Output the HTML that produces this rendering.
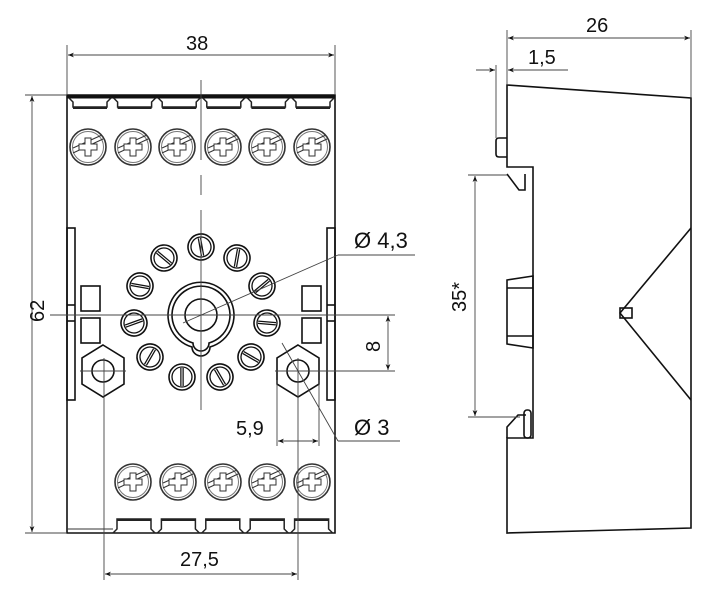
<!DOCTYPE html>
<html><head><meta charset="utf-8"><style>
html,body{margin:0;padding:0;background:#fff;}
svg{display:block;}
text{font-family:"Liberation Sans",sans-serif;font-size:20px;fill:#111;}
</style></head><body>
<svg width="706" height="589" viewBox="0 0 706 589" xmlns="http://www.w3.org/2000/svg">
<defs>
<marker id="a" viewBox="0 0 10 10" refX="10" refY="5" markerWidth="10" markerHeight="6" orient="auto-start-reverse" markerUnits="userSpaceOnUse"><path d="M0,1 L10,5 L0,9 L3,5 Z" fill="#111"/></marker>
<g id="sc">
<circle r="18" fill="none" stroke="#333" stroke-width="1.6"/><circle r="15.5" fill="none" stroke="#777" stroke-width="1"/>
<line x1="-15" y1="6" x2="15" y2="-8" stroke="#333"/><line x1="-15" y1="1" x2="14" y2="-12" stroke="#333"/>
<path d="M-3,-9h6v6h6v6h-6v6h-6v-6h-6v-6h6z" fill="#fff" stroke="#333"/>
</g>
<g id="pin">
<circle r="13" fill="none" stroke="#111" stroke-width="1.6"/><circle r="10" fill="none" stroke="#111" stroke-width="1.3"/>
<line x1="-9" y1="0" x2="9" y2="0" stroke="#111" stroke-width="3.5"/><line x1="-9" y1="0" x2="9" y2="0" stroke="#fff" stroke-width="1"/>
</g>
<g id="ct">
<path d="M0,0 l4,4 v5 h34 v-5 l4,-4" fill="none" stroke="#222" stroke-width="1.5"/><line x1="4" y1="10" x2="38" y2="10" stroke="#222" stroke-width="2"/>
</g>
<g id="cb">
<path d="M0,0 l4,-4 v-10 h34 v10 l4,4" fill="none" stroke="#222" stroke-width="1.5"/><line x1="4" y1="-13" x2="38" y2="-13" stroke="#222" stroke-width="2"/>
</g>
</defs>
<g fill="none" stroke="#111" stroke-width="1.6">
<path d="M67,95 V533 H335 V95 Z"/>
<line x1="67" y1="97" x2="335" y2="97" stroke-width="3"/>
<rect x="67" y="228" width="8" height="172"/>
<rect x="327" y="228" width="8" height="172"/>
<line x1="67" y1="305" x2="75" y2="305"/><line x1="67" y1="321" x2="75" y2="321"/>
<line x1="327" y1="305" x2="335" y2="305"/><line x1="327" y1="321" x2="335" y2="321"/>
<rect x="81" y="286" width="19" height="25"/><rect x="81" y="318" width="19" height="25"/>
<rect x="302" y="286" width="19" height="25"/><rect x="302" y="318" width="19" height="25"/>
<path d="M192,347 A33,33 0 1 1 210,347 A9,9 0 0 1 192,347 Z"/>
<path d="M193,343 A29,29 0 1 1 209,343 A8,8 0 0 1 193,343 Z"/>
<circle cx="201" cy="315" r="16"/>
<polygon points="103,345 124,358 124,384 103,397 82,384 82,358"/>
<circle cx="103" cy="371" r="11"/>
<polygon points="298,345 319,358 319,384 298,397 277,384 277,358"/>
<circle cx="298" cy="371" r="11"/>
<path d="M507,85 L691,98 V528 L507,533 V438 L533,438 V167 L507,167 Z"/>
<path d="M691,228 L620,313 L691,400"/>
<rect x="620" y="308" width="12" height="10"/>
<path d="M507,280 L533,276 V348 L507,344 Z"/><line x1="507" y1="288" x2="533" y2="288"/><line x1="507" y1="336" x2="533" y2="336"/>
<path d="M507,174 L519,190 H525 V174"/>
<path d="M507,438 V427 L518,415 H526"/>
<rect x="524" y="410" width="7" height="28" rx="3"/>
<path d="M507,138 H499 Q496,138 496,141 V154 Q496,157 499,157 H507"/>
</g>
<use href="#sc" x="88" y="147"/><use href="#sc" x="133" y="147"/><use href="#sc" x="177" y="147"/><use href="#sc" x="223" y="147"/><use href="#sc" x="267" y="147"/><use href="#sc" x="312" y="147"/>
<use href="#sc" x="133" y="482"/><use href="#sc" x="178" y="482"/><use href="#sc" x="223" y="482"/><use href="#sc" x="267" y="482"/><use href="#sc" x="312" y="482"/>
<use href="#ct" x="69" y="98"/><use href="#ct" x="113.6" y="98"/><use href="#ct" x="158.2" y="98"/><use href="#ct" x="202.8" y="98"/><use href="#ct" x="247.4" y="98"/><use href="#ct" x="292" y="98"/>
<use href="#cb" x="113" y="533"/><use href="#cb" x="157.4" y="533"/><use href="#cb" x="201.8" y="533"/><use href="#cb" x="246.2" y="533"/><use href="#cb" x="290.6" y="533"/>
<line x1="67" y1="529" x2="113" y2="529" stroke="#333"/>
<use href="#pin" transform="translate(201,247) rotate(80)"/>
<use href="#pin" transform="translate(164,258) rotate(40)"/>
<use href="#pin" transform="translate(237,258) rotate(100)"/>
<use href="#pin" transform="translate(140,286) rotate(10)"/>
<use href="#pin" transform="translate(262,286) rotate(140)"/>
<use href="#pin" transform="translate(134,323) rotate(160)"/>
<use href="#pin" transform="translate(267,323) rotate(5)"/>
<use href="#pin" transform="translate(150,357) rotate(120)"/>
<use href="#pin" transform="translate(251,357) rotate(30)"/>
<use href="#pin" transform="translate(182,377) rotate(90)"/>
<use href="#pin" transform="translate(220,377) rotate(60)"/>
<g fill="none" stroke="#444" stroke-width="0.9">
<line x1="201" y1="80" x2="201" y2="160"/>
<line x1="201" y1="175" x2="201" y2="195"/>
<line x1="201" y1="210" x2="201" y2="410"/>
<line x1="50" y1="315" x2="350" y2="315"/>
<line x1="25" y1="533" x2="67" y2="533"/>
<line x1="25" y1="95" x2="67" y2="95"/>
<line x1="67" y1="45" x2="67" y2="95"/><line x1="335" y1="45" x2="335" y2="95"/>
<line x1="68" y1="55" x2="334" y2="55" marker-start="url(#a)" marker-end="url(#a)"/>
<line x1="32" y1="96" x2="32" y2="532" marker-start="url(#a)" marker-end="url(#a)"/>
<line x1="104" y1="358" x2="104" y2="580"/><line x1="298" y1="358" x2="298" y2="580"/>
<line x1="105" y1="574" x2="297" y2="574" marker-start="url(#a)" marker-end="url(#a)"/>
<line x1="80" y1="371" x2="126" y2="371"/><line x1="275" y1="371" x2="395" y2="371"/>
<line x1="335" y1="315" x2="395" y2="315"/>
<line x1="388" y1="316" x2="388" y2="370" marker-start="url(#a)" marker-end="url(#a)"/>
<line x1="277" y1="380" x2="277" y2="446"/><line x1="319" y1="380" x2="319" y2="446"/>
<line x1="278" y1="441" x2="318" y2="441" marker-start="url(#a)" marker-end="url(#a)"/>
<line x1="282" y1="343" x2="338" y2="441"/><line x1="338" y1="441" x2="400" y2="441"/>
<line x1="183" y1="323" x2="338" y2="255"/><line x1="338" y1="255" x2="415" y2="255"/>
<line x1="507" y1="30" x2="507" y2="85"/><line x1="691" y1="30" x2="691" y2="98"/>
<line x1="508" y1="38" x2="690" y2="38" marker-start="url(#a)" marker-end="url(#a)"/>
<line x1="496" y1="65" x2="496" y2="138"/>
<line x1="476" y1="70" x2="495" y2="70" marker-end="url(#a)"/>
<line x1="568" y1="70" x2="508" y2="70" marker-end="url(#a)"/>
<line x1="468" y1="175" x2="507" y2="175"/><line x1="468" y1="417" x2="520" y2="417"/>
<line x1="475" y1="176" x2="475" y2="416" marker-start="url(#a)" marker-end="url(#a)"/>
</g>
<text x="186" y="50">38</text>
<text transform="translate(44,322) rotate(-90)">62</text>
<text x="180" y="566">27,5</text>
<text x="236" y="435">5,9</text>
<text transform="translate(380,352) rotate(-90)">8</text>
<text x="354" y="248" style="font-size:22px">Ø 4,3</text>
<text x="354" y="435" style="font-size:22px">Ø 3</text>
<text x="586" y="32">26</text>
<text x="528" y="64">1,5</text>
<text transform="translate(466,312) rotate(-90)">35*</text>
</svg>
</body></html>
